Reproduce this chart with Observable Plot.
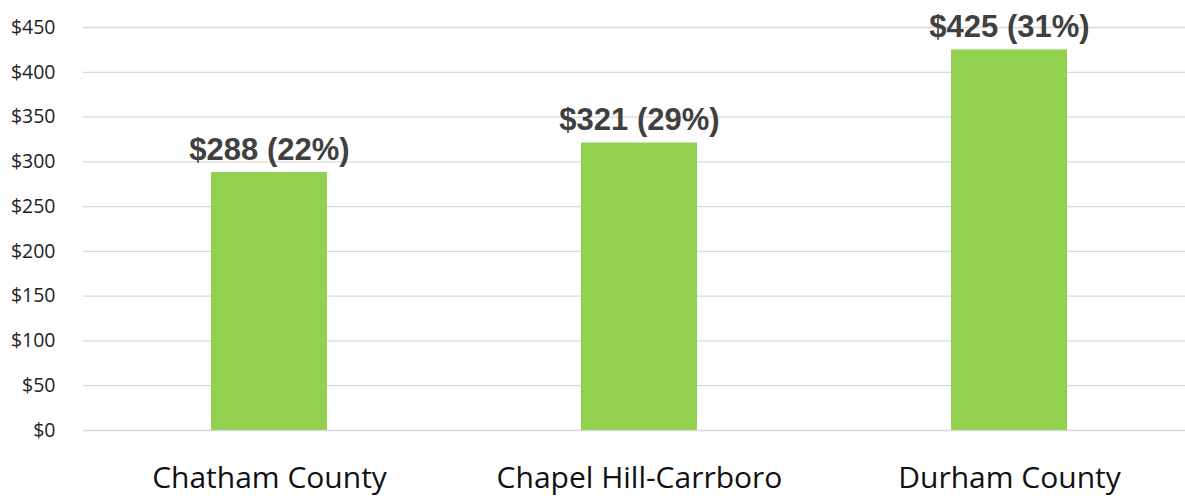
<!DOCTYPE html>
<html><head><meta charset="utf-8">
<script src="https://cdn.jsdelivr.net/npm/d3@7"></script>
<script src="https://cdn.jsdelivr.net/npm/@observablehq/plot@0.6"></script>
<style>body{margin:0;background:#fff;} svg{display:block}</style>
</head><body><div id="chart"></div>
<script>
const regions = ["Chatham County", "Chapel Hill-Carrboro", "Durham County"];
const costs = [288, 321, 425];
const shares = ["22%", "29%", "31%"];
const yTicks = [0, 50, 100, 150, 200, 250, 300, 350, 400, 450];

const data = regions.map((r, i) => ({region: r, cost: costs[i], label: `$${costs[i]} (${shares[i]})`}));

const chart = Plot.plot({
  width: 1185, height: 496,
  marginLeft: 83, marginRight: 0, marginTop: 27, marginBottom: 66,
  style: {background: "#fff"},
  x: {domain: regions, range: [83, 1194], paddingInner: 0.687, paddingOuter: 0.3435, label: null},
  y: {domain: [0, 450], ticks: yTicks, label: null},
  marks: [
    Plot.ruleY(yTicks, {stroke: "#d9d9d9", strokeWidth: 1.3}),
    Plot.barY(data, {x: "region", y: "cost", fill: "#92D050"}),
    Plot.text(data, {x: "region", y: "cost", text: "label", dy: -13, lineAnchor: "bottom",
      fontSize: 31, fontWeight: "bold", fill: "#404040", fontFamily: "Liberation Sans, Arial, sans-serif"}),
    Plot.axisY({ticks: yTicks, tickSize: 0, tickPadding: 28, tickFormat: d => `$${d}`,
      fontSize: 19.5, fill: "#222", fontFamily: "Open Sans, sans-serif", label: null}),
    Plot.axisX({tickSize: 0, tickPadding: 36, fontSize: 30, fill: "#111", fontFamily: "Open Sans, sans-serif", label: null})
  ]
});
document.getElementById("chart").append(chart);
</script></body></html>
